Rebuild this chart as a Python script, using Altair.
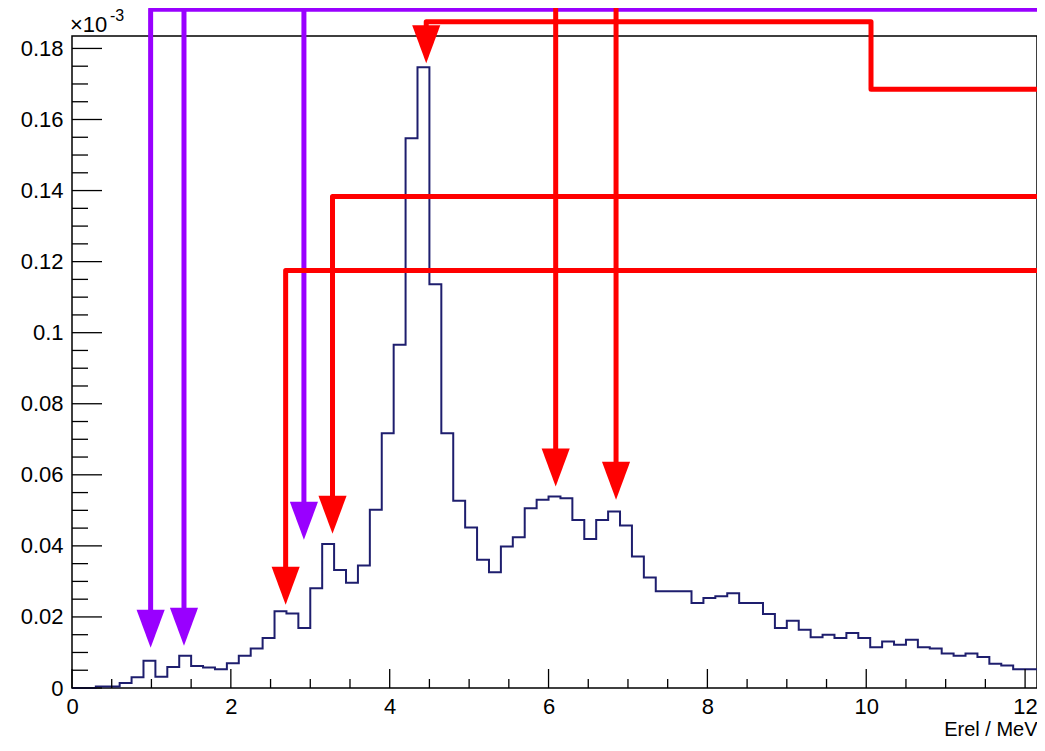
import altair as alt
import pandas as pd

# ---------------- data (values in units of 1e-3) ----------------
bin_width = 0.15
counts = [
    0.0, 0.0, 0.0004, 0.0004, 0.0014, 0.0030, 0.0077, 0.0032, 0.0059, 0.0091,
    0.0062, 0.0058, 0.0053, 0.0070, 0.0091, 0.0111, 0.0141, 0.0216, 0.0210, 0.0169,
    0.0281, 0.0405, 0.0332, 0.0296, 0.0345, 0.0502, 0.0717, 0.0966, 0.1547, 0.1747,
    0.1136, 0.0717, 0.0527, 0.0452, 0.0361, 0.0326, 0.0398, 0.0424, 0.0506, 0.0530,
    0.0539, 0.0534, 0.0473, 0.0419, 0.0473, 0.0497, 0.0457, 0.0370, 0.0311, 0.0272,
    0.0272, 0.0272, 0.0239, 0.0253, 0.0258, 0.0267, 0.0239, 0.0239, 0.0208, 0.0169,
    0.0189, 0.0164, 0.0143, 0.0150, 0.0141, 0.0155, 0.0141, 0.0115, 0.0131, 0.0122,
    0.0136, 0.0115, 0.0111, 0.0097, 0.0091, 0.0097, 0.0087, 0.0068, 0.0063, 0.0053,
    0.0053,
]
x_max = 12.15
y_max = 0.1835

x_major = [0, 2, 4, 6, 8, 10, 12]
x_minor = [0.5, 1, 1.5, 2.5, 3, 3.5, 4.5, 5, 5.5, 6.5, 7, 7.5, 8.5, 9, 9.5,
           10.5, 11, 11.5]
y_major = [0, 0.02, 0.04, 0.06, 0.08, 0.1, 0.12, 0.14, 0.16, 0.18]
y_minor = [0.005, 0.01, 0.015, 0.025, 0.03, 0.035, 0.045, 0.05, 0.055,
           0.065, 0.07, 0.075, 0.085, 0.09, 0.095, 0.105, 0.11, 0.115,
           0.125, 0.13, 0.135, 0.145, 0.15, 0.155, 0.165, 0.17, 0.175]

# annotation arrows (data coordinates)
purple_x = [0.99, 1.41, 2.92]
purple_tip = [0.0113, 0.0119, 0.0417]
purple_bus = 0.1910
red_x = [2.69, 3.28, 4.46, 6.09, 6.85]
red_tip = [0.0234, 0.0434, 0.1758, 0.0567, 0.0530]
red_bus = [0.1175, 0.1383, 0.1875, 0.21, 0.21]
red_step_x = 10.06
red_step_y = 0.1685
line_end_x = 12.5
head_h = 0.0107

PURPLE = "#9900ff"
RED = "#ff0000"
NAVY = "#1e1e6e"
FONT = "Liberation Sans"

# ---------------- build tables ----------------
edges = [round(i * bin_width, 4) for i in range(len(counts))] + [x_max]
hist = pd.DataFrame({"x": edges, "y": counts + [counts[-1]]})

rows = []
def add_path(pid, color, pts):
    for i, (px, py) in enumerate(pts):
        rows.append({"path": pid, "seq": i, "x": px, "y": py, "color": color})

shaft_end = [t + head_h * 0.85 for t in purple_tip]
add_path("pbus", PURPLE, [(purple_x[0], shaft_end[0]), (purple_x[0], purple_bus),
                          (line_end_x, purple_bus)])
for k in (1, 2):
    add_path(f"p{k}", PURPLE, [(purple_x[k], purple_bus + 0.01), (purple_x[k], shaft_end[k])])

for k, (rx, rt, rb) in enumerate(zip(red_x, red_tip, red_bus)):
    se = rt + head_h * 0.85
    if k in (0, 1):
        pts = [(rx, se), (rx, rb), (line_end_x, rb)]
    elif k == 2:
        pts = [(rx, se), (rx, rb), (red_step_x, rb), (red_step_x, red_step_y),
               (line_end_x, red_step_y)]
    else:
        pts = [(rx, rb), (rx, se)]
    add_path(f"r{k}", RED, pts)
paths = pd.DataFrame(rows)

heads = pd.DataFrame({
    "x": purple_x + red_x,
    "y": [t + head_h / 2 for t in purple_tip + red_tip],
    "color": [PURPLE] * len(purple_x) + [RED] * len(red_x),
})

W, H = 965, 652

xs = alt.Scale(domain=[0, x_max], nice=False, zero=False)
ys = alt.Scale(domain=[0, y_max], nice=False, zero=False)

x_axis = alt.Axis(values=x_major, format="d", ticks=False, domain=False,
                  grid=False, labelFontSize=22, labelPadding=8,
                  labelColor="black", labelFont=FONT, labelFlush=False,
                  titleAnchor="end", titleAlign="right", titleFontSize=20,
                  titleFontWeight="normal", titleFont=FONT,
                  titleColor="black", titlePadding=2)
y_axis = alt.Axis(values=y_major, format=".2~f", ticks=False, domain=False,
                  grid=False, labelFontSize=22, labelPadding=9,
                  labelColor="black", labelFont=FONT)


def ex():
    return alt.X("x:Q", scale=xs, title="Erel / MeV", axis=x_axis)


def ey():
    return alt.Y("y:Q", scale=ys, title=None, axis=y_axis)


hist_layer = alt.Chart(hist).mark_line(
    interpolate="step-after", color=NAVY, strokeWidth=2
).encode(x=ex(), y=ey())

xmaj = alt.Chart(pd.DataFrame({"x": x_major})).mark_rule(color="black", strokeWidth=1.3).encode(
    x=ex(), y=alt.value(H), y2=alt.value(H - 19))
xmin = alt.Chart(pd.DataFrame({"x": x_minor})).mark_rule(color="black", strokeWidth=1.3).encode(
    x=ex(), y=alt.value(H), y2=alt.value(H - 9))
ymaj = alt.Chart(pd.DataFrame({"y": y_major})).mark_rule(color="black", strokeWidth=1.3).encode(
    y=ey(), x=alt.value(0), x2=alt.value(30))
ymin = alt.Chart(pd.DataFrame({"y": y_minor})).mark_rule(color="black", strokeWidth=1.3).encode(
    y=ey(), x=alt.value(0), x2=alt.value(16))

arrow_lines = alt.Chart(paths).mark_line(strokeWidth=5, strokeJoin="round", clip=False).encode(
    x=ex(), y=ey(),
    detail="path:N",
    order="seq:O",
    color=alt.Color("color:N", scale=None),
)

arrow_heads = alt.Chart(heads).mark_point(
    shape="M-0.74,-1L0.74,-1L0,1Z", size=1444, filled=True, opacity=1,
    strokeWidth=0, clip=False
).encode(
    x=ex(), y=ey(),
    color=alt.Color("color:N", scale=None),
)

mult = alt.Chart(pd.DataFrame({"t": ["×10"]})).mark_text(
    align="left", baseline="middle", fontSize=22, font=FONT, color="black"
).encode(x=alt.value(-2), y=alt.value(-11), text="t:N")
mult_exp = alt.Chart(pd.DataFrame({"t": ["-3"]})).mark_text(
    align="left", baseline="middle", fontSize=16, font=FONT, color="black"
).encode(x=alt.value(38), y=alt.value(-20), text="t:N")

chart = alt.layer(
    hist_layer, xmaj, xmin, ymaj, ymin, arrow_lines, arrow_heads, mult, mult_exp
).properties(
    width=W, height=H,
    autosize=alt.AutoSizeParams(type="none"),
    padding={"left": 64, "top": 28, "right": 0, "bottom": 55},
    background="white",
).configure_view(stroke="black", strokeWidth=1.5)

chart.save("out.html", embed_options={"renderer": "svg", "actions": False})
